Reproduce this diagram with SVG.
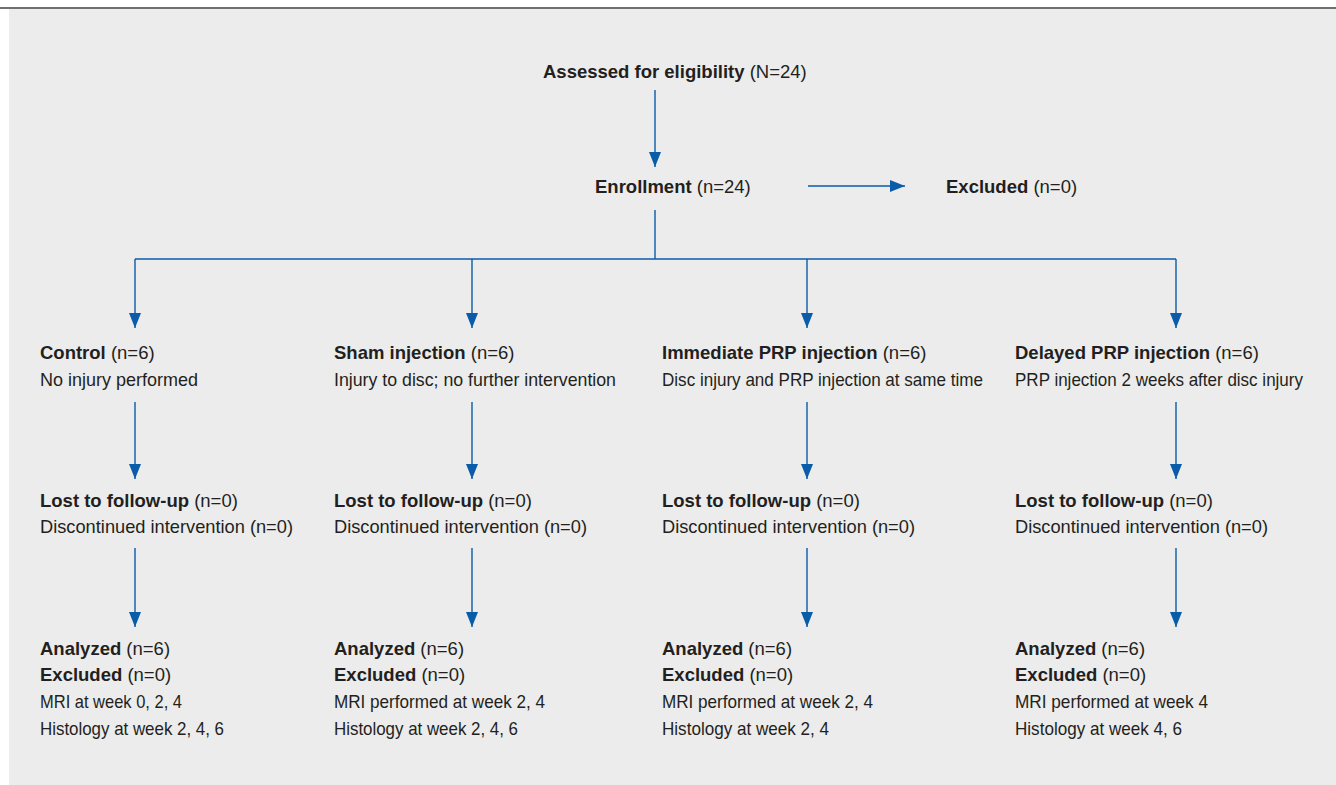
<svg xmlns="http://www.w3.org/2000/svg" width="1336" height="785" viewBox="0 0 1336 785">
<defs>
<style>
text{font-family:"Liberation Sans",Arial,sans-serif;font-size:18.5px;fill:#231f20;}
.b{font-weight:bold;}
.c{stroke:#0b5ca8;stroke-width:1.4;fill:none;}
</style>
<marker id="ah" markerWidth="15" markerHeight="12" refX="15" refY="6" orient="auto" markerUnits="userSpaceOnUse"><path d="M0,0 L15,6 L0,12 z" fill="#0b5ca8"/></marker>
</defs>
<rect x="0" y="0" width="1336" height="785" fill="#ffffff"/>
<rect x="9" y="9" width="1327" height="776" fill="#ececec"/>
<rect x="0" y="7" width="1336" height="2" fill="#6f6f6f"/>
<g id="connectors">
<line class="c" x1="655" y1="90" x2="655" y2="167" marker-end="url(#ah)"/>
<line class="c" x1="808" y1="186" x2="905" y2="186" marker-end="url(#ah)"/>
<polyline class="c" points="655,210 655,259"/>
<line class="c" x1="135" y1="259" x2="1176" y2="259"/>
<line class="c" x1="135" y1="259" x2="135" y2="328" marker-end="url(#ah)"/>
<line class="c" x1="472" y1="259" x2="472" y2="328" marker-end="url(#ah)"/>
<line class="c" x1="807" y1="259" x2="807" y2="328" marker-end="url(#ah)"/>
<line class="c" x1="1176" y1="259" x2="1176" y2="328" marker-end="url(#ah)"/>
<line class="c" x1="135" y1="402" x2="135" y2="479" marker-end="url(#ah)"/>
<line class="c" x1="472" y1="402" x2="472" y2="479" marker-end="url(#ah)"/>
<line class="c" x1="807" y1="402" x2="807" y2="479" marker-end="url(#ah)"/>
<line class="c" x1="1176" y1="402" x2="1176" y2="479" marker-end="url(#ah)"/>
<line class="c" x1="135" y1="548" x2="135" y2="627" marker-end="url(#ah)"/>
<line class="c" x1="472" y1="548" x2="472" y2="627" marker-end="url(#ah)"/>
<line class="c" x1="807" y1="548" x2="807" y2="627" marker-end="url(#ah)"/>
<line class="c" x1="1176" y1="548" x2="1176" y2="627" marker-end="url(#ah)"/>
</g>
<g id="assessed"><text x="543" y="78"><tspan class="b">Assessed for eligibility</tspan> (N=24)</text></g>
<g id="enrollment"><text x="595" y="193"><tspan class="b">Enrollment</tspan> (n=24)</text></g>
<g id="excluded"><text x="946" y="193"><tspan class="b">Excluded</tspan> (n=0)</text></g>

<g id="control">
<text x="40" y="359"><tspan class="b">Control</tspan> (n=6)</text>
<text x="40" y="386" textLength="158" lengthAdjust="spacingAndGlyphs">No injury performed</text>
</g>
<g id="sham">
<text x="334" y="359"><tspan class="b">Sham injection</tspan> (n=6)</text>
<text x="334" y="386" textLength="282" lengthAdjust="spacingAndGlyphs">Injury to disc; no further intervention</text>
</g>
<g id="immediate">
<text x="662" y="359"><tspan class="b">Immediate PRP injection</tspan> (n=6)</text>
<text x="662" y="386" textLength="321" lengthAdjust="spacingAndGlyphs">Disc injury and PRP injection at same time</text>
</g>
<g id="delayed">
<text x="1015" y="359"><tspan class="b">Delayed PRP injection</tspan> (n=6)</text>
<text x="1015" y="386" textLength="288" lengthAdjust="spacingAndGlyphs">PRP injection 2 weeks after disc injury</text>
</g>

<g id="lost1">
<text x="40" y="507"><tspan class="b">Lost to follow-up</tspan> (n=0)</text>
<text x="40" y="533" textLength="253" lengthAdjust="spacingAndGlyphs">Discontinued intervention (n=0)</text>
</g>
<g id="lost2">
<text x="334" y="507"><tspan class="b">Lost to follow-up</tspan> (n=0)</text>
<text x="334" y="533" textLength="253" lengthAdjust="spacingAndGlyphs">Discontinued intervention (n=0)</text>
</g>
<g id="lost3">
<text x="662" y="507"><tspan class="b">Lost to follow-up</tspan> (n=0)</text>
<text x="662" y="533" textLength="253" lengthAdjust="spacingAndGlyphs">Discontinued intervention (n=0)</text>
</g>
<g id="lost4">
<text x="1015" y="507"><tspan class="b">Lost to follow-up</tspan> (n=0)</text>
<text x="1015" y="533" textLength="253" lengthAdjust="spacingAndGlyphs">Discontinued intervention (n=0)</text>
</g>

<g id="analyzed1">
<text x="40" y="655"><tspan class="b">Analyzed</tspan> (n=6)</text>
<text x="40" y="681"><tspan class="b">Excluded</tspan> (n=0)</text>
<text x="40" y="708" textLength="142" lengthAdjust="spacingAndGlyphs">MRI at week 0, 2, 4</text>
<text x="40" y="735" textLength="184" lengthAdjust="spacingAndGlyphs">Histology at week 2, 4, 6</text>
</g>
<g id="analyzed2">
<text x="334" y="655"><tspan class="b">Analyzed</tspan> (n=6)</text>
<text x="334" y="681"><tspan class="b">Excluded</tspan> (n=0)</text>
<text x="334" y="708" textLength="211" lengthAdjust="spacingAndGlyphs">MRI performed at week 2, 4</text>
<text x="334" y="735" textLength="184" lengthAdjust="spacingAndGlyphs">Histology at week 2, 4, 6</text>
</g>
<g id="analyzed3">
<text x="662" y="655"><tspan class="b">Analyzed</tspan> (n=6)</text>
<text x="662" y="681"><tspan class="b">Excluded</tspan> (n=0)</text>
<text x="662" y="708" textLength="211" lengthAdjust="spacingAndGlyphs">MRI performed at week 2, 4</text>
<text x="662" y="735" textLength="167" lengthAdjust="spacingAndGlyphs">Histology at week 2, 4</text>
</g>
<g id="analyzed4">
<text x="1015" y="655"><tspan class="b">Analyzed</tspan> (n=6)</text>
<text x="1015" y="681"><tspan class="b">Excluded</tspan> (n=0)</text>
<text x="1015" y="708" textLength="193" lengthAdjust="spacingAndGlyphs">MRI performed at week 4</text>
<text x="1015" y="735" textLength="167" lengthAdjust="spacingAndGlyphs">Histology at week 4, 6</text>
</g>
</svg>
